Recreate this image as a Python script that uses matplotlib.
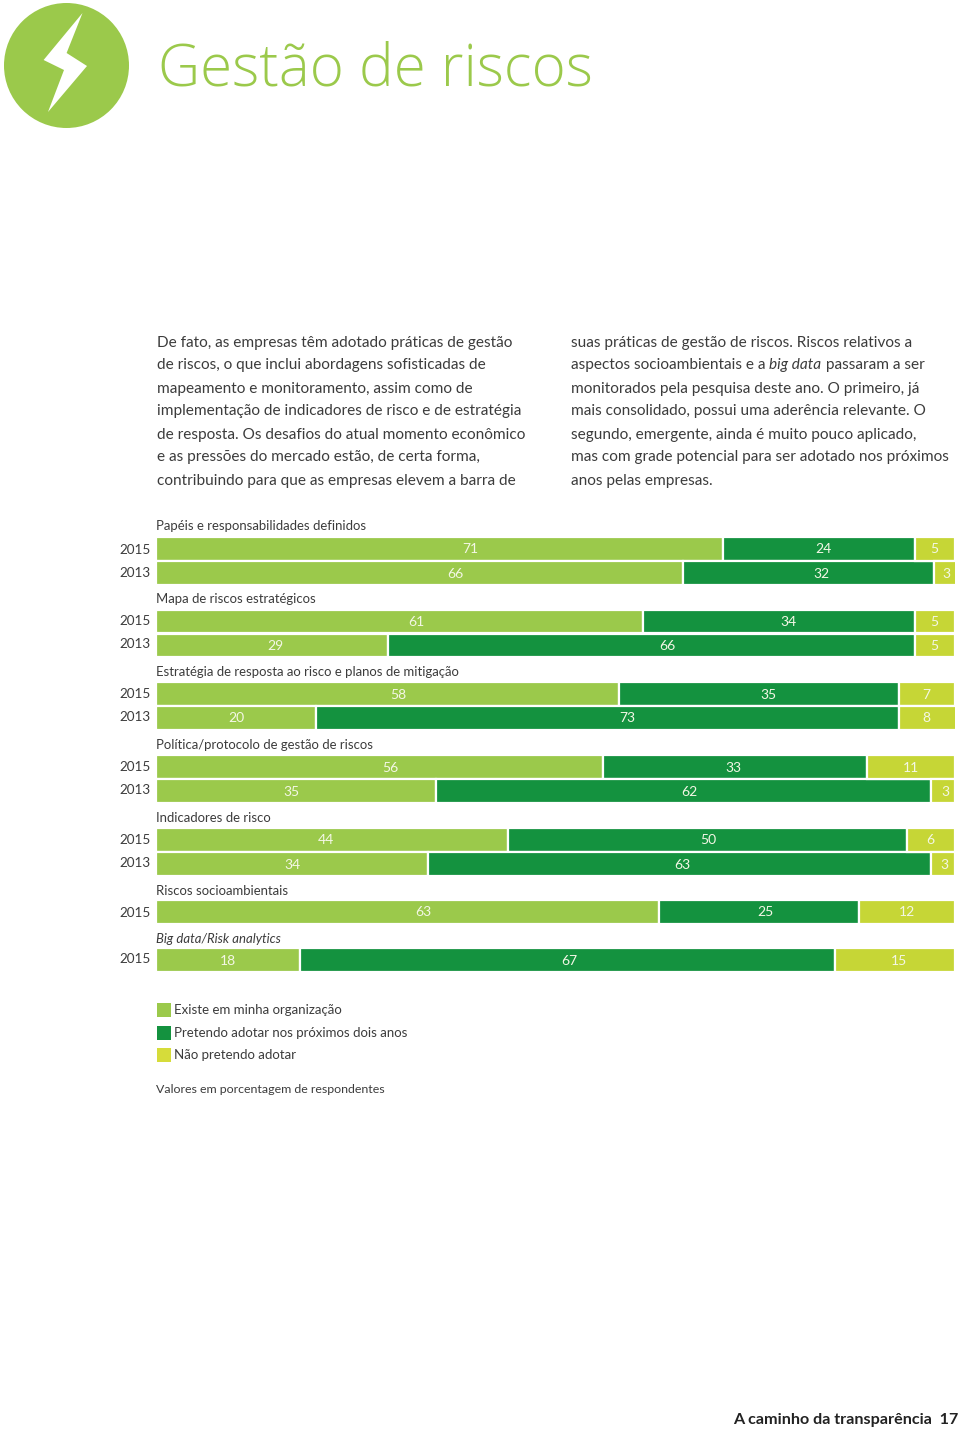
import matplotlib
matplotlib.use('Agg')
import matplotlib.pyplot as plt
from matplotlib.patches import Ellipse, Polygon, Rectangle

# Dados
grupos = ['Papéis e responsabilidades definidos', 'Mapa de riscos estratégicos',
          'Estratégia de resposta ao risco e planos de mitigação',
          'Política/protocolo de gestão de riscos', 'Indicadores de risco',
          'Riscos socioambientais', 'Big data/Risk analytics']
anos = ['2015', '2013', '2015', '2013', '2015', '2013', '2015', '2013', '2015', '2013', '2015', '2015']
existe = [71, 66, 61, 29, 58, 20, 56, 35, 44, 34, 63, 18]
pretendo = [24, 32, 34, 66, 35, 73, 33, 62, 50, 63, 25, 67]
nao = [5, 3, 5, 5, 7, 8, 11, 3, 6, 3, 12, 15]
# largura desenhada difere do rotulo nesta barra (arredondamento do original)
pretendo_largura = [24, 31.4, 34, 66, 35, 73, 33, 62, 50, 63, 25, 67]
legenda = ['Existe em minha organização', 'Pretendo adotar nos próximos dois anos', 'Não pretendo adotar']

# Layout (pixels da pagina)
W, H = 960, 1431
y_barras = [549, 573, 621.5, 645.5, 694, 718, 767, 791, 840, 864, 912, 960]
y_grupos = [530, 603, 676, 749, 822, 895, 943]
y_anos = [554, 577, 625, 648, 698, 721, 771, 794, 844, 867, 917, 963]
# deslocamento dos rotulos em relacao ao centro do segmento
dx_existe = [31, 36, 17, 3, 10, 0, 10, -5, -6, 0, 15, 0]
dx_pretendo = [5, 13, 9, 16, 9, 20, -2, 6, 1, 3, 6, 2]
dx_nao = [0, 2, 0, 0, 0, 0, 0, 3, 0, 2, 0, 4]
dy_label = [0, 1, 1, 1, 1, 0, 1, 1, 0, 1, 0, 1]

VERDE = '#9bc94b'
ESCURO = '#14923f'
AMARELO = '#c6d636'
TEXTO = '#3c3c3c'
FONTE = 'Lato'

plt.rcParams['font.family'] = [FONTE, 'DejaVu Sans']

fig = plt.figure(figsize=(W / 100, H / 100), dpi=100)

# 1. Pagina inteira em pixels, para textos e icone
page = fig.add_axes([0, 0, 1, 1])
page.set_xlim(0, W)
page.set_ylim(H, 0)
page.axis('off')

# 2. Barras: eixo x em porcentagem
left_px, right_px = 156.4, 954.6
ax = fig.add_axes([left_px / W, 0, (right_px - left_px) / W, 1])
ax.set_xlim(0, 100)
ax.set_ylim(H, 0)
ax.axis('off')
ax.patch.set_alpha(0)

esq2 = [a + b for a, b in zip(existe, pretendo_largura)]
altura = 23.5
ax.barh(y_barras, existe, height=altura, color=VERDE, edgecolor='white', linewidth=1.6)
ax.barh(y_barras, pretendo_largura, left=existe, height=altura, color=ESCURO, edgecolor='white', linewidth=1.6)
ax.barh(y_barras, nao, left=esq2, height=altura, color=AMARELO, edgecolor='white', linewidth=1.6)

for i, y in enumerate(y_barras):
    centros = [existe[i] / 2, existe[i] + pretendo_largura[i] / 2, esq2[i] + min(nao[i], 100 - esq2[i]) / 2]
    for c, v, dx in zip(centros, [existe[i], pretendo[i], nao[i]], [dx_existe[i], dx_pretendo[i], dx_nao[i]]):
        ax.annotate(str(v), (c, y), xytext=(dx, -dy_label[i]), textcoords='offset pixels',
                    ha='center', va='center', color='#f4f7e6', fontsize=10)

for ano, y in zip(anos, y_anos):
    page.text(151, y, ano, ha='right', va='baseline', color=TEXTO, fontsize=9.7)

for i, (g, y) in enumerate(zip(grupos, y_grupos)):
    page.text(156, y, g, va='baseline', color=TEXTO, fontsize=9.45,
              style='italic' if i == len(grupos) - 1 else 'normal')

# 3. Icone e titulo
page.add_patch(Ellipse((66.5, 65.5), 125, 125, color=VERDE, lw=0))
page.add_patch(Polygon([(82.5, 13), (43.6, 60), (64, 70), (48, 112), (87, 66), (66.6, 53)],
                       closed=True, color='white', lw=0))
page.text(158, 86, 'Gestão de riscos', color=VERDE, fontsize=42, va='baseline', weight='light',
          family=['Open Sans', 'DejaVu Sans'])

# 4. Texto corrido
col1 = ['De fato, as empresas têm adotado práticas de gestão',
        'de riscos, o que inclui abordagens sofisticadas de',
        'mapeamento e monitoramento, assim como de',
        'implementação de indicadores de risco e de estratégia',
        'de resposta. Os desafios do atual momento econômico',
        'e as pressões do mercado estão, de certa forma,',
        'contribuindo para que as empresas elevem a barra de']
col2 = ['suas práticas de gestão de riscos. Riscos relativos a',
        None,
        'monitorados pela pesquisa deste ano. O primeiro, já',
        'mais consolidado, possui uma aderência relevante. O',
        'segundo, emergente, ainda é muito pouco aplicado,',
        'mas com grade potencial para ser adotado nos próximos',
        'anos pelas empresas.']
y0 = 346.5
passo = 23
corpo = 11.05
for i, linha in enumerate(col1):
    page.text(157, y0 + i * passo, linha, va='baseline', color=TEXTO, fontsize=corpo)
for i, linha in enumerate(col2):
    if linha is not None:
        page.text(571, y0 + i * passo, linha, va='baseline', color=TEXTO, fontsize=corpo)

# linha com trecho em italico
x = 571
renderer = fig.canvas.get_renderer()
for parte, estilo in [('aspectos socioambientais e a ', 'normal'), ('big data', 'italic'), (' passaram a ser', 'normal')]:
    t = page.text(x, y0 + passo, parte.replace(' ', '\u00a0'), va='baseline', color=TEXTO, fontsize=corpo, style=estilo)
    x = page.transData.inverted().transform(t.get_window_extent(renderer))[1][0]

# 5. Legenda e notas
for nome, cor, y in zip(legenda, [VERDE, ESCURO, '#d6dc3a'], [1009.5, 1032.5, 1054.5]):
    page.add_patch(Rectangle((157, y - 7), 13.5, 14, color=cor, lw=0))
    page.text(174, y + 4.5, nome, va='baseline', color=TEXTO, fontsize=9.5)
page.text(156, 1093, 'Valores em porcentagem de respondentes', va='baseline', color=TEXTO, fontsize=8.9)
page.text(958, 1424, 'A caminho da transparência  17', ha='right', va='baseline', color='#222222',
          fontsize=11.6, weight='bold')

fig.savefig('out.png', dpi=100)
